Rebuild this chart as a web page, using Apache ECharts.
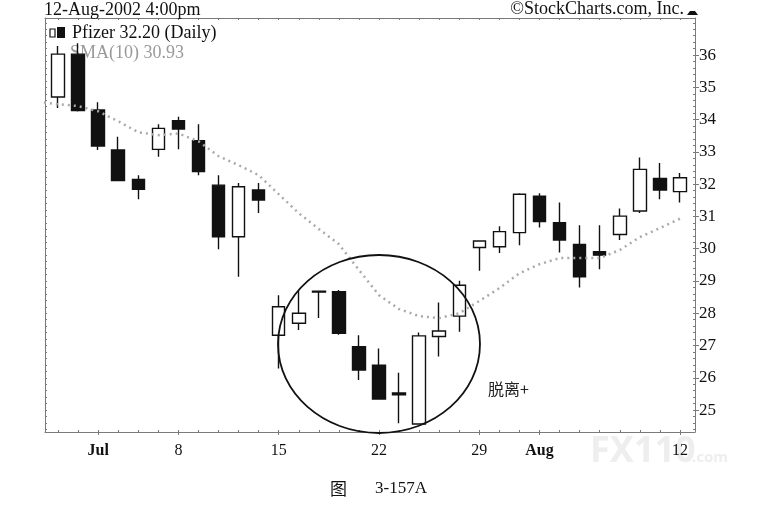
<!DOCTYPE html>
<html>
<head>
<meta charset="utf-8">
<script src="https://cdn.jsdelivr.net/npm/echarts@6/dist/echarts.min.js"></script>
<style>
  html, body { margin: 0; padding: 0; background: #fff; }
  #main { width: 762px; height: 505px; }
</style>
</head>
<body>
<div id="main"></div>
<script>
(function () {
  'use strict';

  // trading days, Jun 27 .. Aug 12 2002
  const dates = ['Jun 27', 'Jun 28', 'Jul 1', 'Jul 2', 'Jul 3', 'Jul 5', 'Jul 8', 'Jul 9', 'Jul 10',
    'Jul 11', 'Jul 12', 'Jul 15', 'Jul 16', 'Jul 17', 'Jul 18', 'Jul 19', 'Jul 22', 'Jul 23', 'Jul 24',
    'Jul 25', 'Jul 26', 'Jul 29', 'Jul 30', 'Jul 31', 'Aug 1', 'Aug 2', 'Aug 5', 'Aug 6', 'Aug 7',
    'Aug 8', 'Aug 9', 'Aug 12'];
  const openP = [34.70, 36.03, 34.30, 33.06, 32.15, 33.08, 33.97, 33.35, 31.97, 30.37, 31.82,
    27.32, 27.69, 28.68, 28.67, 26.96, 26.39, 25.53, 24.57, 27.28, 27.91, 30.04, 30.06, 30.50,
    31.63, 30.81, 30.13, 29.91, 30.44, 31.17, 32.18, 31.77];
  const closeP = [36.03, 34.28, 33.18, 32.11, 31.84, 33.73, 33.71, 32.39, 30.37, 31.92, 31.51,
    28.20, 28.00, 28.66, 27.38, 26.24, 25.34, 25.47, 27.30, 27.45, 28.87, 30.24, 30.53, 31.69,
    30.84, 30.27, 29.13, 29.80, 31.01, 32.46, 31.82, 32.20];
  const lowP = [34.36, 34.25, 33.06, 32.11, 31.53, 32.85, 33.08, 32.28, 29.98, 29.13, 31.11,
    26.29, 27.48, 27.85, 27.33, 25.93, 25.34, 24.59, 24.57, 26.66, 27.43, 29.32, 29.87, 30.11,
    30.66, 29.88, 28.80, 29.36, 30.27, 31.11, 31.53, 31.43];
  const highP = [36.28, 36.37, 34.54, 33.47, 32.28, 33.86, 34.09, 33.86, 32.28, 32.04, 32.04,
    28.56, 28.70, 28.70, 28.72, 27.32, 26.91, 26.16, 27.40, 28.33, 29.01, 30.26, 30.70, 31.72,
    31.72, 31.43, 30.73, 30.73, 31.25, 32.83, 32.66, 32.35];
  // SMA(10), first value is the day before Jun 27
  const maStart = -1;
  const ma10 = [34.55, 34.48, 34.42, 34.26, 33.95, 33.61, 33.52, 33.57, 33.33, 32.87, 32.59, 32.28,
    31.69, 31.10, 30.61, 30.14, 29.34, 28.56, 28.13, 27.91, 27.85, 28.00, 28.38, 28.78, 29.24,
    29.52, 29.71, 29.71, 29.71, 29.96, 30.36, 30.64, 30.93];

  const xLabelIdx = [2, 6, 11, 16, 21, 24, 31];
  const xLabelText = ['Jul', '8', '15', '22', '29', 'Aug', '12'];
  const yTicks = [25, 26, 27, 28, 29, 30, 31, 32, 33, 34, 35, 36];

  const serif = '"Liberation Serif", "DejaVu Serif", serif';
  const axisGrey = '#7a7a7a';
  const xMin = -0.65, xMax = 31.75;
  const yMin = 24.32, yMax = 37.15;

  const dayIdx = dates.map(function (d, i) { return i; });
  const yMinor = [];
  for (let v = 24.4; v < yMax; v += 0.2) yMinor.push(Math.round(v * 10) / 10);

  const el = document.getElementById('main');
  const chart = echarts.init(el, null, { renderer: 'canvas' });

  const baseX = { type: 'value', min: xMin, max: xMax, splitLine: { show: false } };
  const baseY = { type: 'value', min: yMin, max: yMax, splitLine: { show: false } };

  chart.setOption({
    animation: false,
    backgroundColor: '#fff',
    grid: { left: 45, right: 67, top: 18, bottom: 73 },
    xAxis: [
      Object.assign({}, baseX, {
        position: 'bottom',
        z: 5,
        axisLine: { show: true, onZero: false, lineStyle: { color: axisGrey } },
        axisTick: { show: true, customValues: dayIdx, inside: true, length: 2, lineStyle: { color: axisGrey } },
        axisLabel: {
          customValues: xLabelIdx, margin: 11, color: '#111', fontFamily: serif, fontSize: 16,
          formatter: function (v) {
            const k = xLabelIdx.indexOf(Math.round(v));
            if (k < 0) return '';
            const t = xLabelText[k];
            return /^[A-Z]/.test(t) ? '{b|' + t + '}' : t;
          },
          rich: { b: { fontFamily: serif, fontSize: 16, fontWeight: 'bold', color: '#111' } }
        }
      }),
      Object.assign({}, baseX, {
        position: 'bottom',
        axisLine: { show: false, onZero: false },
        axisTick: { show: true, customValues: xLabelIdx, length: 3, lineStyle: { color: axisGrey } },
        axisLabel: { show: false }
      }),
      Object.assign({}, baseX, {
        position: 'top',
        axisLine: { show: true, onZero: false, lineStyle: { color: axisGrey } },
        axisTick: { show: true, customValues: dayIdx, inside: true, length: 2, lineStyle: { color: axisGrey } },
        axisLabel: { show: false }
      })
    ],
    yAxis: [
      Object.assign({}, baseY, {
        position: 'right',
        axisLine: { show: true, onZero: false, lineStyle: { color: axisGrey } },
        axisTick: { show: true, customValues: yTicks, length: 4, lineStyle: { color: axisGrey } },
        axisLabel: { customValues: yTicks, margin: 4, color: '#111', fontFamily: serif, fontSize: 17 }
      }),
      Object.assign({}, baseY, {
        position: 'right',
        axisLine: { show: false, onZero: false },
        axisTick: { show: true, customValues: yMinor, inside: true, length: 2, lineStyle: { color: axisGrey } },
        axisLabel: { show: false }
      }),
      Object.assign({}, baseY, {
        position: 'left',
        axisLine: { show: true, onZero: false, lineStyle: { color: axisGrey } },
        axisTick: { show: true, customValues: yMinor, inside: true, length: 2, lineStyle: { color: axisGrey } },
        axisLabel: { show: false }
      })
    ],
    series: [
      {
        name: 'Pfizer',
        type: 'candlestick',
        xAxisIndex: 0,
        yAxisIndex: 0,
        barWidth: 13,
        z: 3,
        data: dates.map(function (d, i) { return [i, openP[i], closeP[i], lowP[i], highP[i]]; }),
        itemStyle: { color: '#fff', color0: '#111', borderColor: '#111', borderColor0: '#111', borderWidth: 1.4 }
      },
      {
        name: 'SMA(10)',
        type: 'line',
        xAxisIndex: 0,
        yAxisIndex: 0,
        z: 4,
        showSymbol: false,
        data: ma10.map(function (v, k) { return [k + maStart, v]; }),
        lineStyle: { color: '#aaa', width: 2.5, type: [2, 4] }
      }
    ],
    graphic: [
      { type: 'text', z: -1, style: { x: 590, y: 452, text: 'FX110', font: 'bold 36px "Noto Sans", sans-serif', fill: '#eeeeee', verticalAlign: 'middle' } },
      { type: 'text', z: -1, style: { x: 692, y: 458, text: '.com', font: 'bold 15px "Noto Sans", sans-serif', fill: '#eeeeee', verticalAlign: 'middle' } },
      { type: 'text', z: 10, style: { x: 44, y: 10, text: '12-Aug-2002 4:00pm', font: '18px ' + serif, fill: '#111', verticalAlign: 'middle' } },
      { type: 'text', z: 10, style: { x: 684, y: 9, text: '\u00a9StockCharts.com, Inc.', font: '18px ' + serif, fill: '#111', align: 'right', verticalAlign: 'middle' } },
      { type: 'polygon', z: 10, shape: { points: [[687, 15], [698, 15], [695, 11], [690, 11]] }, style: { fill: '#111' } },
      { type: 'rect', z: 10, shape: { x: 50, y: 29, width: 5, height: 8 }, style: { fill: '#fff', stroke: '#111', lineWidth: 1.2 } },
      { type: 'rect', z: 10, shape: { x: 57, y: 27, width: 8, height: 11 }, style: { fill: '#111' } },
      { type: 'text', z: 10, style: { x: 72, y: 33, text: 'Pfizer 32.20 (Daily)', font: '18px ' + serif, fill: '#111', verticalAlign: 'middle' } },
      { type: 'text', z: 0, style: { x: 70, y: 53, text: 'SMA(10) 30.93', font: '18px ' + serif, fill: '#999', verticalAlign: 'middle' } },
      { type: 'ellipse', z: 10, shape: { cx: 379, cy: 344, rx: 101, ry: 89 }, style: { fill: 'none', stroke: '#111', lineWidth: 1.8 } },
      { type: 'text', z: 10, style: { x: 488, y: 389, text: '脱离+', font: '16px "Noto Sans CJK SC"', fill: '#222', verticalAlign: 'middle' } },
      { type: 'text', z: 10, style: { x: 330, y: 489, text: '图', font: '17px "Noto Sans CJK SC"', fill: '#111', verticalAlign: 'middle' } },
      { type: 'text', z: 10, style: { x: 375, y: 489, text: '3-157A', font: '17px ' + serif, fill: '#111', verticalAlign: 'middle' } }
    ]
  });

  window.addEventListener('resize', function () { chart.resize(); });
})();
</script>
</body>
</html>
